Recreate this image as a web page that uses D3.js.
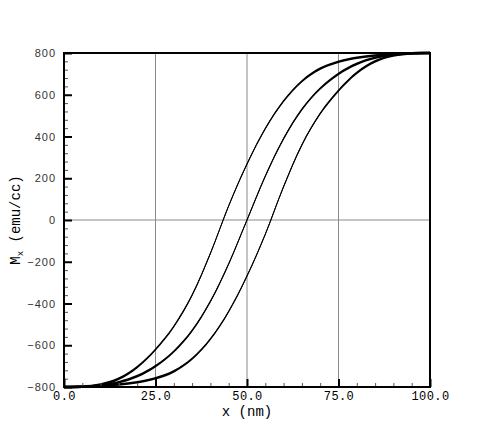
<!DOCTYPE html>
<html>
<head>
<meta charset="utf-8">
<script src="https://cdn.jsdelivr.net/npm/d3@7"></script>
<style>
  body { margin: 0; background: #fff; }
  svg { display: block; }
</style>
</head>
<body>
<div id="chart-area"></div>
<script>
// position along the wire (nm)
const xPos = [0, 5, 10, 15, 20, 25, 30, 35, 40, 45, 50, 55, 60, 65, 70, 75, 80, 85, 90, 95, 100]

// Mx (emu/cc) for the three wall profiles
const wallLeft  = [-800, -798, -788, -760, -705, -620, -510, -360, -160, 68, 268, 438, 570, 665, 725, 758, 777, 788, 795, 799, 800]
const wallMid   = [-800, -799, -792, -777, -748, -700, -630, -530, -390, -210, 0, 210, 390, 530, 630, 700, 748, 777, 792, 799, 800]
const wallRight = [-800, -799, -795, -788, -777, -758, -725, -665, -570, -438, -268, -68, 160, 360, 510, 620, 705, 760, 788, 798, 800]

const xMajor = [0, 25, 50, 75, 100]
const yMajor = [-800, -600, -400, -200, 0, 200, 400, 600, 800]
const xGrid = [25, 50, 75]
const yGrid = [0]

const W = 490, H = 436
const MARGIN = { LEFT: 64, RIGHT: 60, TOP: 53, BOTTOM: 49 }

const svg = d3.select("#chart-area").append("svg")
  .attr("width", W)
  .attr("height", H)

const x = d3.scaleLinear().domain([0, 100]).range([MARGIN.LEFT, W - MARGIN.RIGHT])
const y = d3.scaleLinear().domain([-800, 800]).range([H - MARGIN.BOTTOM, MARGIN.TOP])

// grid lines
svg.selectAll(".vgrid").data(xGrid).enter().append("line")
  .attr("x1", d => x(d)).attr("x2", d => x(d))
  .attr("y1", y(-800)).attr("y2", y(800))
  .attr("stroke", "#8a8a8a").attr("stroke-width", 1)

svg.selectAll(".hgrid").data(yGrid).enter().append("line")
  .attr("x1", x(0)).attr("x2", x(100))
  .attr("y1", d => y(d)).attr("y2", d => y(d))
  .attr("stroke", "#8a8a8a").attr("stroke-width", 1)

// curves - a band of constant vertical thickness plus a thin core,
// so the steep middle reads thinner like the original plot
const series = [wallLeft, wallMid, wallRight]

const band = d3.area()
  .x((d, i) => x(xPos[i]))
  .y0(d => y(d) + 1.3)
  .y1(d => y(d) - 1.3)
  .curve(d3.curveMonotoneX)

const line = d3.line()
  .x((d, i) => x(xPos[i]))
  .y(d => y(d))
  .curve(d3.curveMonotoneX)

const plot = svg.append("g")
series.forEach(s => {
  plot.append("path").attr("d", band(s)).attr("fill", "#000")
  plot.append("path").attr("d", line(s))
    .attr("fill", "none").attr("stroke", "#000").attr("stroke-width", 1)
})

// minor ticks
const xMinor = svg.append("g")
  .attr("transform", `translate(0,${y(-800)})`)
  .call(d3.axisBottom(x).tickValues(d3.range(0, 101, 5)).tickSize(-4).tickFormat(""))
xMinor.select(".domain").remove()
xMinor.selectAll("line").attr("stroke", "#555")

const yMinor = svg.append("g")
  .attr("transform", `translate(${x(0)},0)`)
  .call(d3.axisLeft(y).tickValues(d3.range(-800, 801, 40)).tickSize(-4).tickFormat(""))
yMinor.select(".domain").remove()
yMinor.selectAll("line").attr("stroke", "#555")

// major ticks and labels
const xAxisGroup = svg.append("g")
  .attr("transform", `translate(0,${y(-800)})`)
  .call(d3.axisBottom(x).tickValues(xMajor).tickSize(-8).tickPadding(4).tickFormat(d3.format(".1f")))
xAxisGroup.select(".domain").remove()
xAxisGroup.selectAll("line").attr("stroke", "#000").attr("stroke-width", 2)
xAxisGroup.selectAll("text")
  .attr("fill", "#000")
  .attr("font-family", "'Liberation Mono', 'DejaVu Sans Mono', monospace")
  .attr("font-size", "12px")
  .attr("letter-spacing", "0.4px")

const yAxisGroup = svg.append("g")
  .attr("transform", `translate(${x(0)},0)`)
  .call(d3.axisLeft(y).tickValues(yMajor).tickSize(-8).tickPadding(8).tickFormat(d => d < 0 ? "\u2212" + Math.abs(d) : d))
yAxisGroup.select(".domain").remove()
yAxisGroup.selectAll("line").attr("stroke", "#000").attr("stroke-width", 2)
yAxisGroup.selectAll("text")
  .attr("fill", "#333")
  .attr("font-family", "'Liberation Sans', Arial, sans-serif")
  .attr("font-size", "11px")
  .attr("letter-spacing", "1px")

// frame
svg.append("rect")
  .attr("x", x(0)).attr("y", y(800))
  .attr("width", x(100) - x(0)).attr("height", y(-800) - y(800))
  .attr("fill", "none").attr("stroke", "#000").attr("stroke-width", 2)

// axis titles
svg.append("text")
  .attr("x", x(50))
  .attr("y", 416)
  .attr("text-anchor", "middle")
  .attr("font-family", "'Liberation Mono', 'DejaVu Sans Mono', monospace")
  .attr("font-size", "14px")
  .text("x (nm)")

const yLabel = svg.append("text")
  .attr("transform", `translate(20,${y(0)}) rotate(-90)`)
  .attr("text-anchor", "middle")
  .attr("font-family", "'Liberation Mono', 'DejaVu Sans Mono', monospace")
  .attr("font-size", "14px")
yLabel.append("tspan").text("M")
yLabel.append("tspan").attr("font-size", "9px").attr("dy", "3").text("x")
yLabel.append("tspan").attr("dy", "-3").text(" (emu/cc)")
</script>
</body>
</html>
